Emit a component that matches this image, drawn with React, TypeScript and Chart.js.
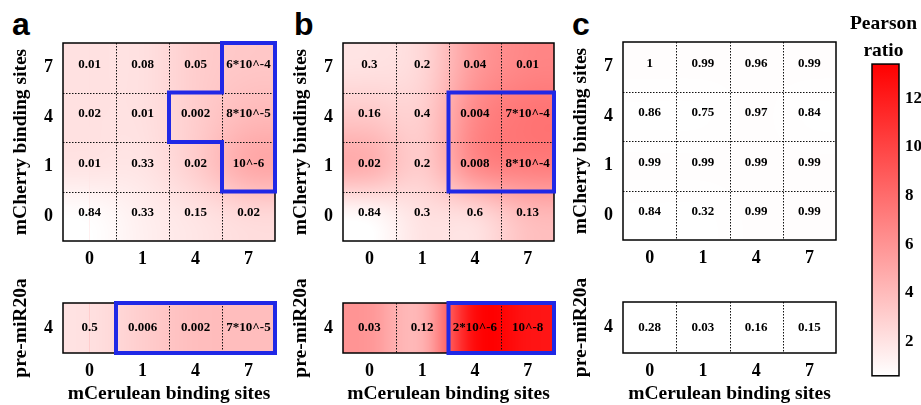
import React, { useEffect, useRef } from 'react';
import { Chart, registerables } from 'chart.js';

Chart.register(...registerables);

// ---------- data ----------
const X_LABELS = ['0', '1', '4', '7']; // mCerulean binding sites
const Y_LABELS = ['0', '1', '4', '7']; // mCherry binding sites (bottom -> top)
const PRE_LABELS = ['4']; // pre-miR20a

// Pearson ratio (colour), rows bottom -> top (0,1,4,7), cols 0,1,4,7
const RATIO_A = [
  [0.6, 1.4, 1.9, 2.4],
  [2.0, 1.9, 3.1, 5.1],
  [2.1, 2.1, 3.1, 4.1],
  [2.1, 2.1, 3.1, 3.4],
];
const P_A = [
  ['0.84', '0.33', '0.15', '0.02'],
  ['0.01', '0.33', '0.02', '10^-6'],
  ['0.02', '0.01', '0.002', '8*10^-5'],
  ['0.01', '0.08', '0.05', '6*10^-4'],
];
const RATIO_A_PRE = [[2.1, 3.1, 3.9, 3.9]];
const P_A_PRE = [['0.5', '0.006', '0.002', '7*10^-5']];
const HIGHLIGHT_A = [[3, 3], [2, 2], [3, 2], [3, 1]]; // [col, row]
const HIGHLIGHT_A_PRE = [[1, 0], [2, 0], [3, 0]];

const RATIO_B = [
  [0.6, 2.1, 2.1, 3.9],
  [4.9, 3.0, 6.7, 7.2],
  [3.4, 2.9, 6.7, 7.7],
  [2.0, 2.5, 5.7, 6.7],
];
const P_B = [
  ['0.84', '0.3', '0.6', '0.13'],
  ['0.02', '0.2', '0.008', '8*10^-4'],
  ['0.16', '0.4', '0.004', '7*10^-4'],
  ['0.3', '0.2', '0.04', '0.01'],
];
const RATIO_B_PRE = [[5.9, 3.9, 13.4, 12.4]];
const P_B_PRE = [['0.03', '0.12', '2*10^-6', '10^-8']];
const HIGHLIGHT_B = [[2, 2], [3, 2], [2, 1], [3, 1]];
const HIGHLIGHT_B_PRE = [[2, 0], [3, 0]];

const RATIO_C = [
  [0.6, 0.6, 0.7, 0.7],
  [0.7, 0.7, 0.7, 0.7],
  [0.6, 0.6, 0.7, 0.6],
  [0.7, 0.7, 0.7, 0.7],
];
const P_C = [
  ['0.84', '0.32', '0.99', '0.99'],
  ['0.99', '0.99', '0.99', '0.99'],
  ['0.86', '0.75', '0.97', '0.84'],
  ['1', '0.99', '0.96', '0.99'],
];
const RATIO_C_PRE = [[0.6, 0.6, 0.6, 0.6]];
const P_C_PRE = [['0.28', '0.03', '0.16', '0.15']];
const HIGHLIGHT_C: number[][] = [];
const HIGHLIGHT_C_PRE: number[][] = [];

const COLOR_MIN = 0.6;
const COLOR_MAX = 13.4;
const COLORBAR_TICKS = [2, 4, 6, 8, 10, 12];

// ---------- styles ----------
const SERIF = "'Liberation Serif', 'Times New Roman', serif";
const BLUE = 'rgb(32, 40, 230)';

function ratioColor(v: number): number[] {
  const t = Math.min(1, Math.max(0, (v - COLOR_MIN) / (COLOR_MAX - COLOR_MIN)));
  const g = Math.round(255 * (1 - t));
  return [255, g, g];
}

type Area = { left: number; top: number; width: number; height: number };

const PAD_T = 24;
const Y_AXIS_W = 60;
const PAD_R = 10;

function Heatmap(props: {
  area: Area;
  xLabels: string[];
  yLabels: string[];
  ratios: number[][];
  pvals: string[][];
  highlight: number[][];
  yTitle: string;
  xTitle?: string;
  textDy: number;
}) {
  const ref = useRef<HTMLCanvasElement>(null);
  const { area, xTitle } = props;
  const xAxisH = xTitle ? 51 : 30;
  const cw = Y_AXIS_W + area.width + PAD_R;
  const ch = PAD_T + area.height + xAxisH;
  const cl = area.left - Y_AXIS_W;
  const ct = area.top - PAD_T;

  useEffect(() => {
    const canvas = ref.current!;
    const { ratios, pvals, xLabels, yLabels, highlight, yTitle, textDy } = props;
    const rows = ratios.length;
    const cols = ratios[0].length;
    const points: { x: number; y: number }[] = [];
    for (let r = 0; r < rows; r++) for (let c = 0; c < cols; c++) points.push({ x: c, y: r });

    const heatPlugin = {
      id: 'heat',
      beforeDatasetsDraw(chart: any) {
        const { ctx, scales } = chart;
        const x = scales.x, y = scales.y;
        const off = document.createElement('canvas');
        off.width = cols;
        off.height = rows;
        const octx = off.getContext('2d')!;
        const img = octx.createImageData(cols, rows);
        for (let r = 0; r < rows; r++) {
          for (let c = 0; c < cols; c++) {
            const [R, G, B] = ratioColor(ratios[r][c]);
            const py = rows - 1 - r;
            const i = (py * cols + c) * 4;
            img.data[i] = R; img.data[i + 1] = G; img.data[i + 2] = B; img.data[i + 3] = 255;
          }
        }
        octx.putImageData(img, 0, 0);
        const x0 = x.getPixelForValue(-0.5), x1 = x.getPixelForValue(cols - 0.5);
        const y0 = y.getPixelForValue(rows - 0.5), y1 = y.getPixelForValue(-0.5);
        ctx.save();
        ctx.beginPath();
        ctx.rect(x0, y0, x1 - x0, y1 - y0);
        ctx.clip();
        ctx.imageSmoothingEnabled = true;
        (ctx as any).imageSmoothingQuality = 'high';
        ctx.drawImage(off, x0, y0, x1 - x0, y1 - y0);
        ctx.restore();

        // dotted grid
        ctx.save();
        ctx.strokeStyle = '#111';
        ctx.lineWidth = 1;
        ctx.setLineDash([1.5, 1.5]);
        ctx.beginPath();
        for (let c = 1; c < cols; c++) {
          const px = Math.round(x.getPixelForValue(c - 0.5)) + 0.5;
          ctx.moveTo(px, y0); ctx.lineTo(px, y1);
        }
        for (let r = 1; r < rows; r++) {
          const py = Math.round(y.getPixelForValue(r - 0.5)) + 0.5;
          ctx.moveTo(x0, py); ctx.lineTo(x1, py);
        }
        ctx.stroke();
        ctx.restore();
      },
      afterDatasetsDraw(chart: any) {
        const { ctx, scales } = chart;
        const x = scales.x, y = scales.y;
        const x0 = x.getPixelForValue(-0.5), x1 = x.getPixelForValue(cols - 0.5);
        const y0 = y.getPixelForValue(rows - 0.5), y1 = y.getPixelForValue(-0.5);
        // values
        ctx.save();
        ctx.fillStyle = '#000';
        ctx.font = `bold 13px ${SERIF}`;
        ctx.textAlign = 'center';
        ctx.textBaseline = 'middle';
        for (let r = 0; r < rows; r++) {
          for (let c = 0; c < cols; c++) {
            ctx.fillText(pvals[r][c], x.getPixelForValue(c), y.getPixelForValue(r) + textDy);
          }
        }
        ctx.restore();
        // border
        ctx.save();
        ctx.strokeStyle = '#000';
        ctx.lineWidth = 1.5;
        ctx.strokeRect(x0, y0, x1 - x0, y1 - y0);
        ctx.restore();
        // highlight outline
        if (highlight.length) {
          const inSet = (c: number, r: number) => highlight.some(([hc, hr]) => hc === c && hr === r);
          ctx.save();
          ctx.strokeStyle = BLUE;
          ctx.lineWidth = 4;
          ctx.lineCap = 'square';
          ctx.beginPath();
          for (const [c, r] of highlight) {
            const xl = x.getPixelForValue(c - 0.5), xr = x.getPixelForValue(c + 0.5);
            const yt = y.getPixelForValue(r + 0.5), yb = y.getPixelForValue(r - 0.5);
            if (!inSet(c, r + 1)) { ctx.moveTo(xl, yt); ctx.lineTo(xr, yt); }
            if (!inSet(c, r - 1)) { ctx.moveTo(xl, yb); ctx.lineTo(xr, yb); }
            if (!inSet(c - 1, r)) { ctx.moveTo(xl, yt); ctx.lineTo(xl, yb); }
            if (!inSet(c + 1, r)) { ctx.moveTo(xr, yt); ctx.lineTo(xr, yb); }
          }
          ctx.stroke();
          ctx.restore();
        }
      },
    };

    const chart = new Chart(canvas, {
      type: 'scatter',
      data: { datasets: [{ data: points, pointRadius: 0, pointHoverRadius: 0, showLine: false }] },
      options: {
        animation: false,
        responsive: false,
        events: [],
        layout: { padding: { top: PAD_T, right: PAD_R, left: 0, bottom: 0 } },
        plugins: { legend: { display: false }, tooltip: { enabled: false }, title: { display: false } },
        scales: {
          x: {
            type: 'linear',
            position: 'bottom',
            min: -0.5,
            max: cols - 0.5,
            grid: { display: false, drawTicks: false },
            border: { display: false },
            afterBuildTicks: (s: any) => { s.ticks = xLabels.map((_, i) => ({ value: i })); },
            afterFit: (s: any) => { s.height = xAxisH; },
            ticks: {
              autoSkip: false,
              maxRotation: 0,
              padding: 7.5,
              color: '#000',
              font: { family: SERIF, size: 18, weight: 'bold' },
              callback: (v: any) => xLabels[Math.round(Number(v))],
            },
            title: xTitle
              ? {
                  display: true,
                  text: xTitle,
                  color: '#000',
                  font: { family: SERIF, size: 19.5, weight: 'bold', lineHeight: 1 },
                  padding: { top: 0, bottom: 0 },
                }
              : { display: false },
          },
          y: {
            type: 'linear',
            position: 'left',
            min: -0.5,
            max: rows - 0.5,
            grid: { display: false, drawTicks: false },
            border: { display: false },
            afterBuildTicks: (s: any) => { s.ticks = yLabels.map((_, i) => ({ value: i })); },
            afterFit: (s: any) => { s.width = Y_AXIS_W; },
            ticks: {
              autoSkip: false,
              padding: 10,
              color: '#000',
              font: { family: SERIF, size: 18, weight: 'bold' },
              callback: (v: any) => yLabels[Math.round(Number(v))],
            },
            title: {
              display: true,
              text: yTitle,
              color: '#000',
              font: { family: SERIF, size: 19.5, weight: 'bold', lineHeight: 1.2 },
              padding: { top: 6, bottom: 0 },
            },
          },
        },
      } as any,
      plugins: [heatPlugin],
    });
    return () => chart.destroy();
  }, []);

  return (
    <canvas
      ref={ref}
      width={cw}
      height={ch}
      style={{ position: 'absolute', left: cl, top: ct, width: cw, height: ch }}
    />
  );
}

function ColorBar() {
  const ref = useRef<HTMLCanvasElement>(null);
  const W = 75, H = 392, L = 846, T = 0;
  useEffect(() => {
    const canvas = ref.current!;
    const barPlugin = {
      id: 'bar',
      beforeDatasetsDraw(chart: any) {
        const { ctx, chartArea } = chart;
        const y = chart.scales.y;
        const yMin = y.getPixelForValue(COLOR_MIN), yMax = y.getPixelForValue(COLOR_MAX);
        const grad = ctx.createLinearGradient(0, yMin, 0, yMax);
        const n = 8;
        for (let i = 0; i <= n; i++) {
          const v = COLOR_MIN + ((COLOR_MAX - COLOR_MIN) * i) / n;
          const [R, G, B] = ratioColor(v);
          grad.addColorStop(i / n, `rgb(${R},${G},${B})`);
        }
        ctx.save();
        ctx.fillStyle = grad;
        ctx.fillRect(chartArea.left, yMax, chartArea.right - chartArea.left, yMin - yMax);
        ctx.strokeStyle = '#000';
        ctx.lineWidth = 1.5;
        ctx.strokeRect(chartArea.left, yMax, chartArea.right - chartArea.left, yMin - yMax);
        ctx.restore();
      },
    };
    const chart = new Chart(canvas, {
      type: 'scatter',
      data: { datasets: [{ data: [], pointRadius: 0 }] },
      options: {
        animation: false,
        responsive: false,
        events: [],
        layout: { padding: { top: 0, left: 0, right: 0, bottom: 15 } },
        plugins: {
          legend: { display: false },
          tooltip: { enabled: false },
          title: {
            display: true,
            text: ['Pearson', 'ratio'],
            color: '#000',
            font: { family: SERIF, size: 19.5, weight: 'bold', lineHeight: 1.35 },
            padding: { top: 11, bottom: 0.4 },
          },
        },
        scales: {
          x: { display: false, min: 0, max: 1 },
          yl: {
            type: 'linear',
            position: 'left',
            display: true,
            grid: { display: false, drawTicks: false },
            border: { display: false },
            ticks: { display: false },
            afterFit: (s: any) => { s.width = 26; },
          },
          y: {
            type: 'linear',
            position: 'right',
            min: COLOR_MIN,
            max: COLOR_MAX,
            grid: { display: false, drawTicks: false },
            border: { display: false },
            afterBuildTicks: (s: any) => { s.ticks = COLORBAR_TICKS.map((v) => ({ value: v })); },
            afterFit: (s: any) => { s.width = 22; },
            ticks: {
              padding: 6,
              color: '#000',
              font: { family: SERIF, size: 17, weight: 'bold' },
              callback: (v: any) => String(v),
            },
          },
        },
      } as any,
      plugins: [barPlugin],
    });
    return () => chart.destroy();
  }, []);
  return (
    <canvas ref={ref} width={W} height={H} style={{ position: 'absolute', left: L, top: T, width: W, height: H }} />
  );
}

const letterStyle = (left: number): React.CSSProperties => ({
  position: 'absolute',
  left,
  top: 8,
  fontFamily: "'Liberation Sans', Arial, sans-serif",
  fontWeight: 'bold',
  fontSize: 32,
  lineHeight: '32px',
  color: '#000',
});

export default function App() {
  const Y_TITLE = 'mCherry binding sites';
  const PRE_TITLE = 'pre-miR20a';
  const X_TITLE = 'mCerulean binding sites';
  return (
    <div
      style={{
        position: 'fixed',
        left: 0,
        top: 0,
        width: 921,
        height: 405,
        overflow: 'hidden',
        background: '#fff',
      }}
    >
      <div style={letterStyle(12)}>a</div>
      <div style={letterStyle(294)}>b</div>
      <div style={letterStyle(572)}>c</div>

      <Heatmap area={{ left: 63, top: 43, width: 212, height: 198 }} xLabels={X_LABELS} yLabels={Y_LABELS}
        ratios={RATIO_A} pvals={P_A} highlight={HIGHLIGHT_A} yTitle={Y_TITLE} textDy={-3.5} />
      <Heatmap area={{ left: 63, top: 303, width: 212, height: 50 }} xLabels={X_LABELS} yLabels={PRE_LABELS}
        ratios={RATIO_A_PRE} pvals={P_A_PRE} highlight={HIGHLIGHT_A_PRE} yTitle={PRE_TITLE} xTitle={X_TITLE} textDy={0} />

      <Heatmap area={{ left: 343, top: 43, width: 211, height: 198 }} xLabels={X_LABELS} yLabels={Y_LABELS}
        ratios={RATIO_B} pvals={P_B} highlight={HIGHLIGHT_B} yTitle={Y_TITLE} textDy={-3.5} />
      <Heatmap area={{ left: 343, top: 303, width: 211, height: 50 }} xLabels={X_LABELS} yLabels={PRE_LABELS}
        ratios={RATIO_B_PRE} pvals={P_B_PRE} highlight={HIGHLIGHT_B_PRE} yTitle={PRE_TITLE} xTitle={X_TITLE} textDy={0} />

      <Heatmap area={{ left: 623, top: 42, width: 213, height: 198 }} xLabels={X_LABELS} yLabels={Y_LABELS}
        ratios={RATIO_C} pvals={P_C} highlight={HIGHLIGHT_C} yTitle={Y_TITLE} textDy={-3.5} />
      <Heatmap area={{ left: 623, top: 302, width: 213, height: 51 }} xLabels={X_LABELS} yLabels={PRE_LABELS}
        ratios={RATIO_C_PRE} pvals={P_C_PRE} highlight={HIGHLIGHT_C_PRE} yTitle={PRE_TITLE} xTitle={X_TITLE} textDy={0} />

      <ColorBar />
    </div>
  );
}
